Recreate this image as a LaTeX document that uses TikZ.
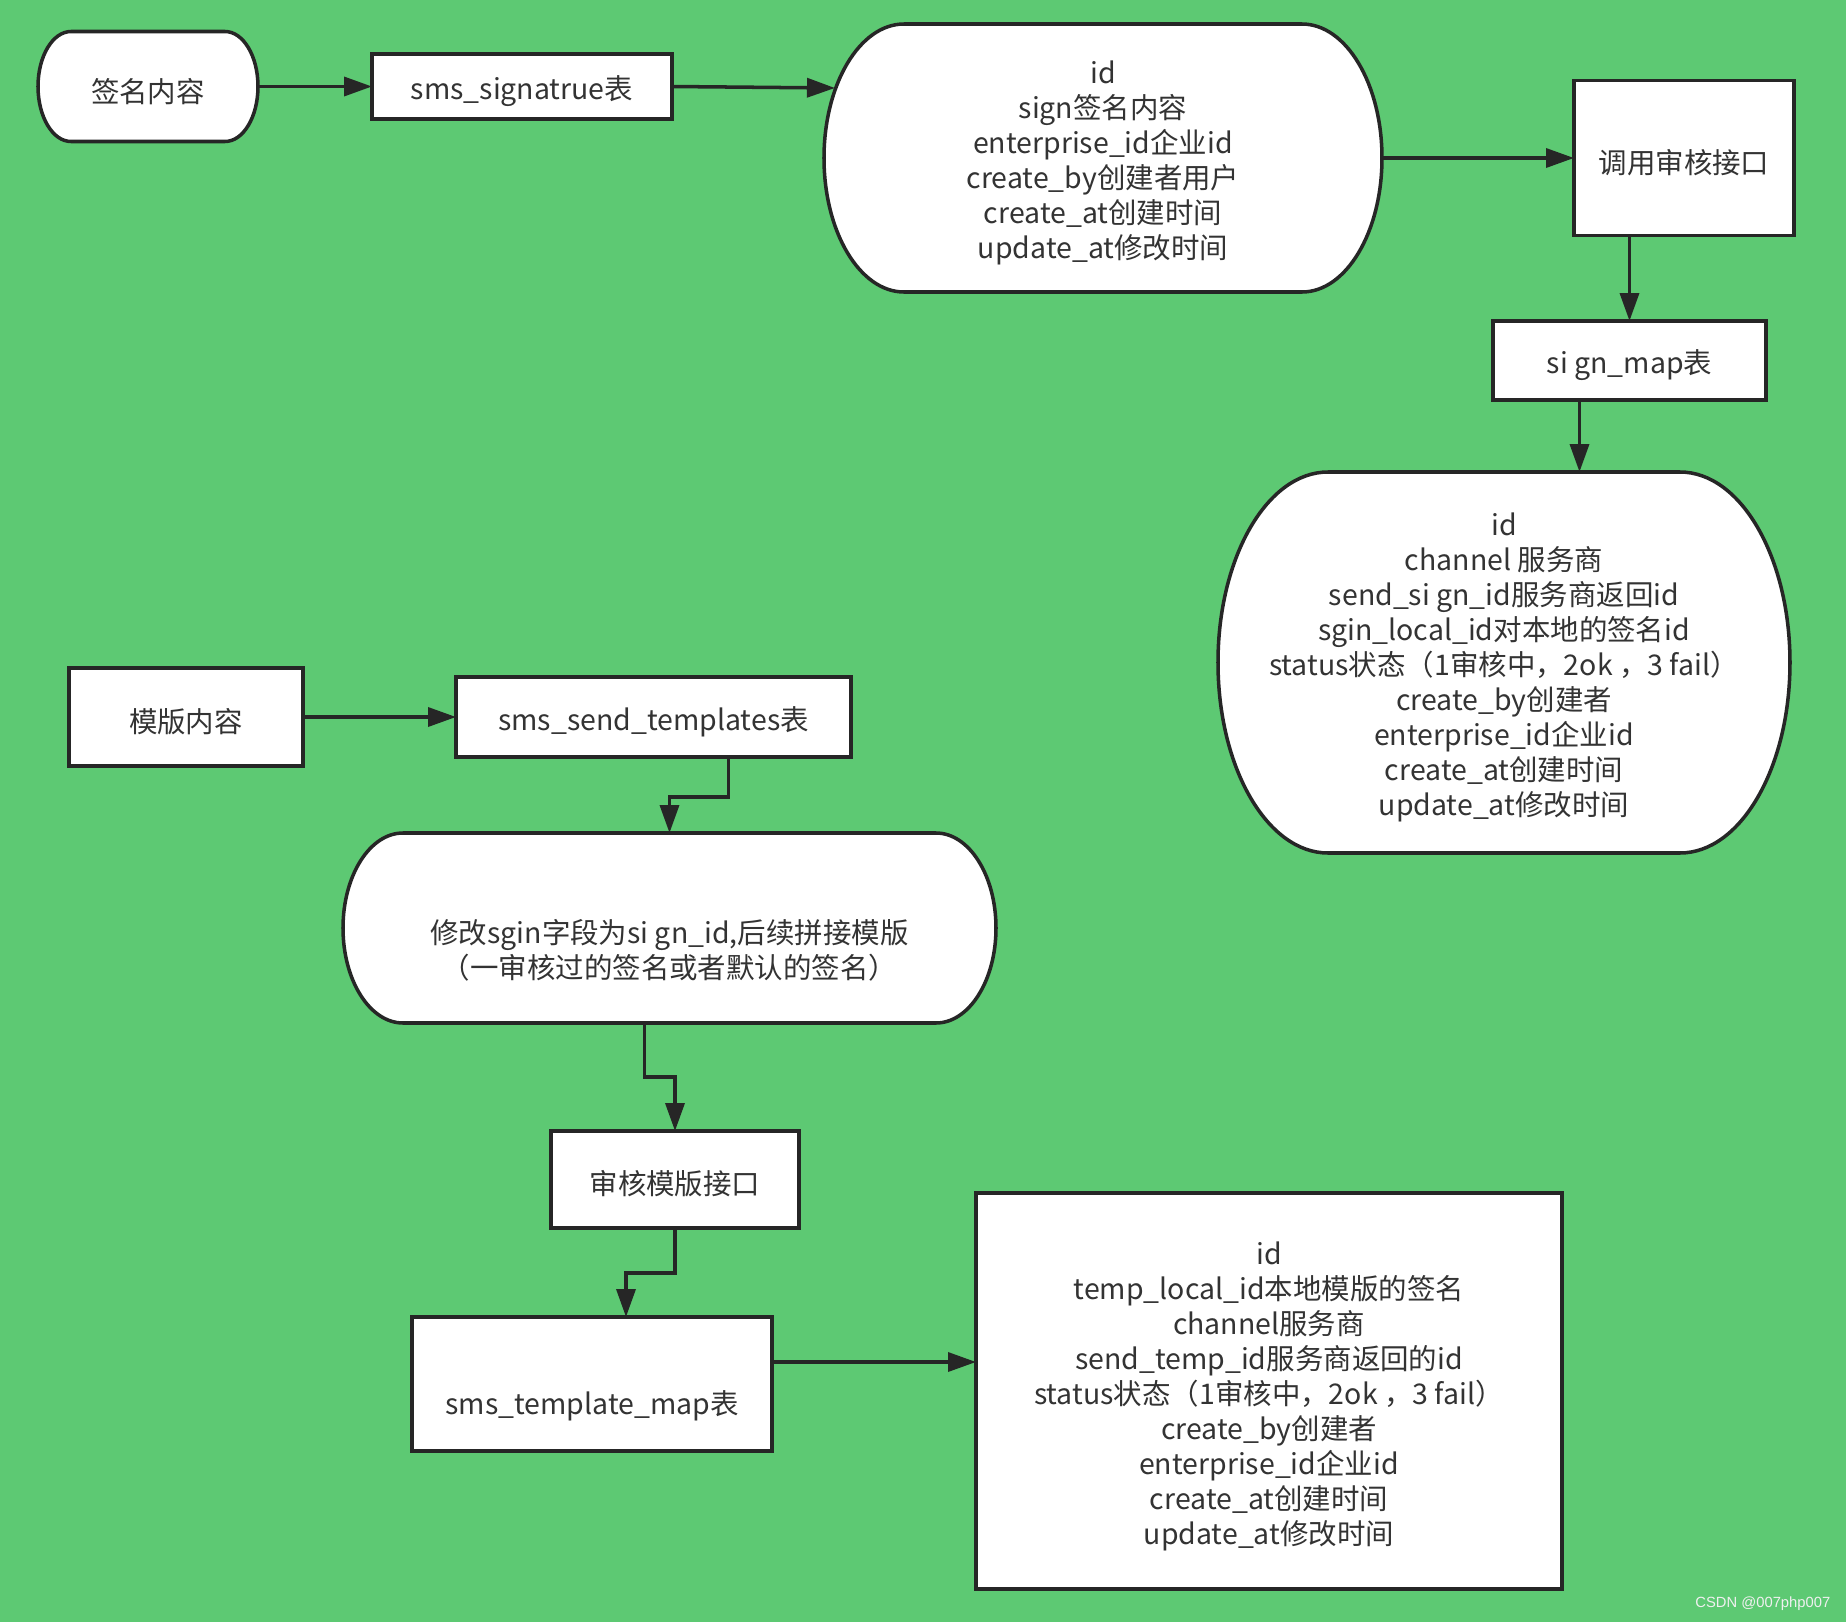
\documentclass[tikz,border=0pt]{standalone}
\usepackage{fontspec}
\setmainfont{Noto Sans CJK SC}
\newfontfamily\markfont{Liberation Sans}
\usetikzlibrary{arrows.meta,backgrounds,calc}
\definecolor{flowgreen}{RGB}{93,201,115}
\definecolor{inkgray}{RGB}{38,38,38}
\definecolor{textgray}{RGB}{51,51,51}
\newcommand{\topstrut}{\rule{0pt}{9.5pt}}

\begin{document}
\begin{tikzpicture}[line width=1pt,draw=inkgray,text=textgray,>={Triangle[length=2.8mm,width=1.9mm]}]
	\def \rowone{-0.865}
	\def \rowtwo{-7.17}
	\tikzstyle{box-node}=[rectangle,draw=inkgray,fill=white,line width=1pt,inner sep=2pt,outer sep=0pt,align=center]
	\tikzstyle{term-node}=[rectangle,inner sep=2pt,outer sep=0pt,align=center]
	\tikzstyle{term-line}=[draw=inkgray,fill=white,line width=1pt]
	\tikzstyle{flow}=[->,draw=inkgray,line width=1pt]

	\begin{scope}[on background layer]
		\fill[flowgreen] (0,0) rectangle (18.46,-16.22);
	\end{scope}
	\useasboundingbox (0,0) rectangle (18.46,-16.22);

	\fontsize{8.1pt}{9.96pt}\selectfont
	% signature flow
	\node[term-node,minimum width=2.2cm,minimum height=1.1cm] 	(sign)	at (1.48,\rowone)	{\topstrut 签名内容};
	\node[box-node,minimum width=3cm,minimum height=0.65cm] 	(sigtab)	at (5.22,\rowone)	{\topstrut sms\_signatrue表};
	\node[term-node,minimum width=5.58cm,minimum height=2.68cm] 	(st1)	at (11.03,-1.58)	{\topstrut id\\sign签名内容\\enterprise\_id企业id\\create\_by创建者用户\\create\_at创建时间\\update\_at修改时间};
	\node[box-node,minimum width=2.2cm,minimum height=1.55cm] 	(audit)	at (16.84,-1.58)	{\topstrut 调用审核接口};
	\node[box-node,minimum width=2.73cm,minimum height=0.79cm] 	(maptab)	at (16.295,-3.605)	{\topstrut si gn\_map表};
	\node[term-node,minimum width=5.72cm,minimum height=3.81cm] 	(st2)	at (15.04,-6.625)	{\topstrut id\\channel 服务商\\send\_si gn\_id服务商返回id\\sgin\_local\_id对本地的签名id\\status状态（1审核中，2ok ，3 fail）\\create\_by创建者\\enterprise\_id企业id\\create\_at创建时间\\update\_at修改时间};

	% template flow
	\node[box-node,minimum width=2.34cm,minimum height=0.98cm] 	(tmpl)	at (1.86,\rowtwo)	{\topstrut 模版内容};
	\node[box-node,minimum width=3.95cm,minimum height=0.8cm] 	(tmpltab)	at (6.535,\rowtwo)	{\topstrut sms\_send\_templates表};
	\node[term-node,minimum width=6.53cm,minimum height=1.9cm] 	(st3)	at (6.695,-9.28)	{\topstrut\\修改sgin字段为si gn\_id,后续拼接模版\\（一审核过的签名或者默认的签名）};
	\node[box-node,minimum width=2.48cm,minimum height=0.97cm] 	(rvw)	at (6.75,-11.795)	{\topstrut 审核模版接口};
	\node[box-node,minimum width=3.6cm,minimum height=1.34cm] 	(tmap)	at (5.92,-13.84)	{\topstrut\\sms\_template\_map表};
	\node[box-node,minimum width=5.86cm,minimum height=3.96cm] 	(detail)	at (12.69,-13.91)	{\topstrut id\\temp\_local\_id本地模版的签名\\channel服务商\\send\_temp\_id服务商返回的id\\status状态（1审核中，2ok ，3 fail）\\create\_by创建者\\enterprise\_id企业id\\create\_at创建时间\\update\_at修改时间};

	\node[font=\markfont\fontsize{4.2pt}{5pt}\selectfont,text=gray!12,inner sep=0pt,anchor=east] 	(mark)	at (18.32,-16.04)	{CSDN @007php007};

	% rounded outlines
	\begin{scope}[on background layer]
	\foreach \nm/\rx in {sign/0.33,st1/0.8,st2/1.1,st3/0.6}
		\draw[term-line] let \p1=(\nm.north west), \p2=(\nm.south east), \n1={(\y1-\y2)/2} in
			([xshift=\rx cm]\nm.north west) -- ([xshift=-\rx cm]\nm.north east)
			arc[start angle=90,end angle=-90,x radius=\rx cm,y radius=\n1]
			-- ([xshift=\rx cm]\nm.south west)
			arc[start angle=270,end angle=90,x radius=\rx cm,y radius=\n1] -- cycle;
	\end{scope}

	\coordinate (st1-in) at (8.35,-0.88);
	\draw[flow] (sign) -- (sigtab);
	\draw[flow] (sigtab.east) -- (st1-in);
	\draw[flow] (st1) -- (audit);
	\draw[flow] (audit.south -| maptab.north) -- (maptab.north);
	\draw[flow] ([xshift=-0.5cm]maptab.south) -- ([xshift=-0.5cm]maptab.south |- st2.north);

	\draw[flow] (tmpl) -- (tmpltab);
	\draw[flow] ([xshift=0.75cm]tmpltab.south) -- ++(0,-0.4) -| (st3.north);
	\draw[flow] ([xshift=-0.25cm]st3.south) -- ++(0,-0.54) -| (rvw.north);
	\draw[flow] (rvw.south) -- ++(0,-0.45) -| ([xshift=0.34cm]tmap.north);
	\draw[flow] ([yshift=0.22cm]tmap.east) -- ([yshift=0.22cm]tmap.east -| detail.west);
\end{tikzpicture}
\end{document}
